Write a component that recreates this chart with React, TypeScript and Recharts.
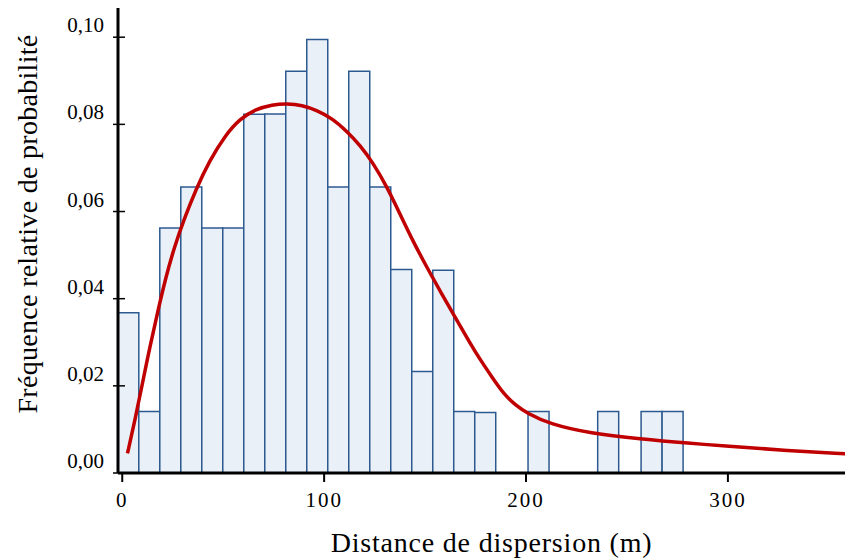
import React from "react";
import { ComposedChart, Bar, Line, XAxis, YAxis, Label } from "recharts";

// Histogram bins: bin centre (m) and relative frequency
const binCenters = [3, 13.4, 23.8, 34.2, 44.6, 55, 65.4, 75.8, 86.2, 96.6, 107, 117.4, 127.8, 138.2, 148.6, 159, 169.4, 179.8, 206.2, 240.7, 262.2, 272.6];
const binFreq = [0.0368, 0.0141, 0.0562, 0.0656, 0.0562, 0.0562, 0.0823, 0.0824, 0.0922, 0.0995, 0.0656, 0.0922, 0.0656, 0.0467, 0.0233, 0.0465, 0.0141, 0.0139, 0.0141, 0.0141, 0.0141, 0.0141];

// Fitted curve (distance m, density)
const curveX = [2.6, 6.3, 9.8, 13.7, 17.7, 21.7, 25.6, 30.6, 36.5, 43.4, 50.9, 58.3, 66.3, 74.2, 81.6, 89.1, 96.5, 103.9, 111.3, 117.8, 124.3, 131.2, 137.6, 144.1, 151.0, 157.9, 165.7, 172.3, 177.3, 183.3, 188.7, 194.6, 200.6, 211.9, 231.8, 256.5, 281.4, 298.7, 327.4, 358.1];
const curveY = [0.0045, 0.0121, 0.0201, 0.029, 0.0373, 0.0451, 0.0515, 0.0582, 0.0651, 0.0718, 0.0774, 0.0813, 0.0835, 0.0845, 0.0848, 0.0844, 0.0832, 0.0814, 0.0784, 0.0752, 0.0711, 0.0656, 0.0594, 0.0531, 0.0471, 0.0414, 0.0351, 0.0298, 0.026, 0.0219, 0.0183, 0.0156, 0.0137, 0.0112, 0.0091, 0.0078, 0.0068, 0.0062, 0.0052, 0.0044];

const xTicks = [0, 100, 200, 300];
const yTicks = [0, 0.02, 0.04, 0.06, 0.08, 0.1];
const xDomain = [-2.1, 358];
const yDomain = [0, 0.1067];

const xTitle = "Distance de dispersion (m)";
const yTitle = "Fréquence relative de probabilité";

const barData = binCenters.map((d, i) => ({ d, freq: binFreq[i] }));
const curveData = curveX.map((d, i) => ({ d, fit: curveY[i] }));

const FONT = "'Liberation Serif', 'Times New Roman', serif";

const fmtY = (v: number) => v.toFixed(2).replace(".", ",");

const YTick = (props: any) => {
  const { x, y, payload } = props;
  return (
    <g>
      <line x1={x - 5} x2={x + 7} y1={y} y2={y} stroke="#000" strokeWidth={1.5} />
      <text x={x - 14} y={y - 12} textAnchor="end" dominantBaseline="central" fontFamily={FONT} fontSize={21} fill="#000">
        {fmtY(payload.value)}
      </text>
    </g>
  );
};

const XTick = (props: any) => {
  const { x, y, payload } = props;
  return (
    <text x={x} y={y} dy="0.71em" textAnchor="middle" fontFamily={FONT} fontSize={21} fill="#000" letterSpacing={2}>
      {payload.value}
    </text>
  );
};

export default function App() {
  return (
    <div style={{ position: "absolute", left: 0, top: 0, background: "#fff" }}>
      <ComposedChart width={845} height={560} data={barData} margin={{ top: 8, right: 0, bottom: 0, left: 0 }} barGap={0} barCategoryGap={0}>
        <XAxis
          dataKey="d"
          type="number"
          domain={xDomain}
          allowDataOverflow
          ticks={xTicks}
          height={87}
          axisLine={{ stroke: "#000", strokeWidth: 3 }}
          tickLine={{ stroke: "#000", strokeWidth: 2 }}
          tickSize={9}
          tickMargin={10}
          tick={<XTick />}
        >
          <Label
            content={(p: any) => {
              const vb = p.viewBox;
              return (
                <text x={vb.x + vb.width / 2 + 10} y={552} textAnchor="middle" fontFamily={FONT} fontSize={28} letterSpacing={0.8} fill="#000">
                  {xTitle}
                </text>
              );
            }}
          />
        </XAxis>
        <XAxis xAxisId="curve" dataKey="d" type="number" domain={xDomain} allowDataOverflow hide />
        <YAxis
          type="number"
          domain={yDomain}
          allowDataOverflow
          ticks={yTicks}
          width={118}
          axisLine={{ stroke: "#000", strokeWidth: 3 }}
          tickLine={false}
          tickSize={0}
          tickMargin={0}
          tick={<YTick />}
        >
          <Label
            content={() => {
              const cx = 37;
              const cy = 224;
              return (
                <text x={cx} y={cy} transform={`rotate(-90 ${cx} ${cy})`} textAnchor="middle" fontFamily={FONT} fontSize={28} letterSpacing={0.3} fill="#000">
                  {yTitle}
                </text>
              );
            }}
          />
        </YAxis>
        <Bar dataKey="freq" fill="#eaf0f8" stroke="#2c5a90" strokeWidth={1.5} isAnimationActive={false} />
        <Line xAxisId="curve" data={curveData} dataKey="fit" type="basis" stroke="#c00000" strokeWidth={3.5} dot={false} isAnimationActive={false} />
      </ComposedChart>
    </div>
  );
}
